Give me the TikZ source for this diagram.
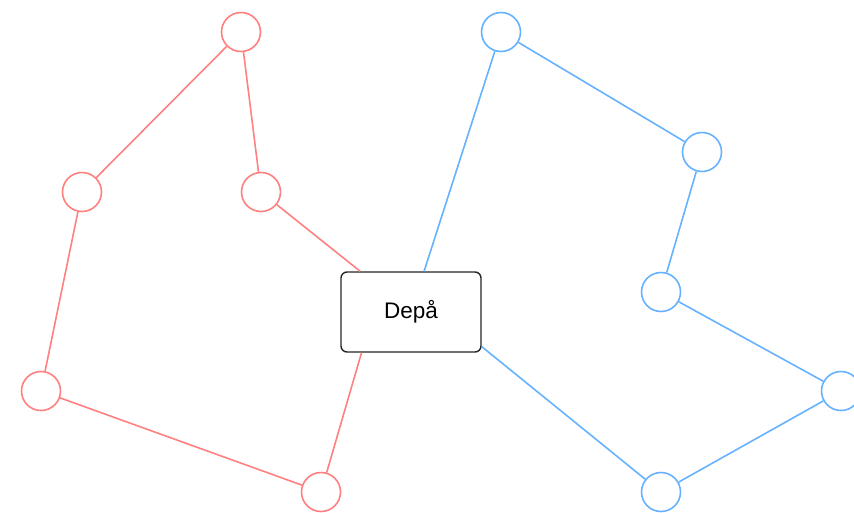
\documentclass[tikz,border=0pt]{standalone}
\usepackage{fontspec}
\setmainfont{Liberation Sans}
\usetikzlibrary{calc}
\definecolor{routeA}{RGB}{255,128,128}
\definecolor{routeB}{RGB}{102,178,255}

\begin{document}
\begin{tikzpicture}[x=1pt,y=1pt,yscale=-1,xscale=1,
	stop/.style={circle,draw,line width=1.6pt,fill=white,minimum size=39pt,inner sep=0pt},
	redstop/.style={stop,draw=routeA},
	bluestop/.style={stop,draw=routeB},
	depot/.style={draw=black!85,line width=1.4pt,rounded corners=6pt,minimum width=140pt,minimum height=80pt,fill=white,font=\fontsize{22.5}{26}\selectfont},
	redleg/.style={draw=routeA,line width=1.6pt},
	blueleg/.style={draw=routeB,line width=1.6pt}]
	\useasboundingbox (0,0) rectangle (854,512);
	% depot
	\node[depot] (depa) at (411,312) {Depå};
	% red route
	\node[redstop] (r1) at (261,192) {};
	\node[redstop] (r2) at (241,32) {};
	\node[redstop] (r3) at (82,192) {};
	\node[redstop] (r4) at (41,391) {};
	\node[redstop] (r5) at (321,492) {};
	% blue route
	\node[bluestop] (b1) at (501,32) {};
	\node[bluestop] (b2) at (702,152) {};
	\node[bluestop] (b3) at (661,292) {};
	\node[bluestop] (b4) at (841,391) {};
	\node[bluestop] (b5) at (661,492) {};
	% legs
	\draw[redleg] (depa) -- (r1) -- (r2) -- (r3) -- (r4) -- (r5) -- ($(depa.south west)!0.15!(depa.south east)$);
	\draw[blueleg] (depa) -- (b1) -- (b2) -- (b3) -- (b4) -- (b5) -- ($(depa.north east)!0.925!(depa.south east)$);
\end{tikzpicture}
\end{document}
